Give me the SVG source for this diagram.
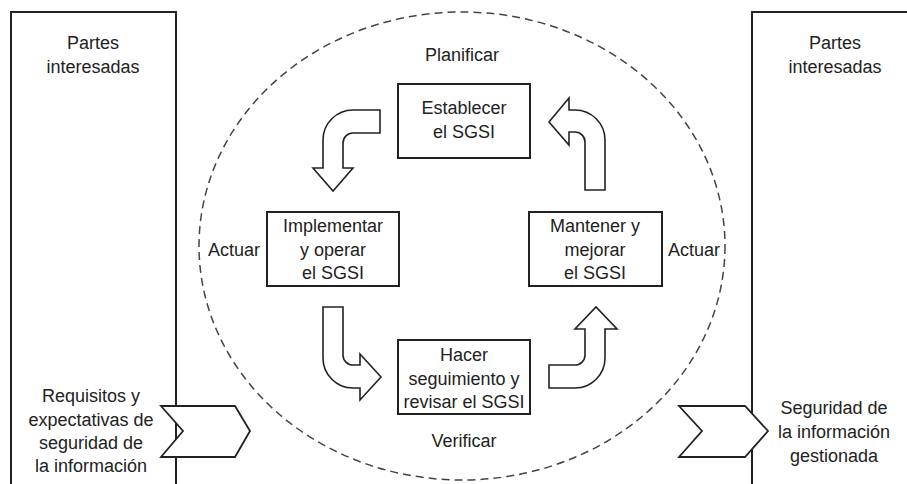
<svg xmlns="http://www.w3.org/2000/svg" width="907" height="484" viewBox="0 0 907 484">
<style>
text{font-family:"Liberation Sans",Arial,sans-serif;font-size:18px;fill:#222;text-anchor:middle}
.box{fill:#fff;stroke:#222;stroke-width:2}
.side{fill:none;stroke:#222;stroke-width:2}
.arr{fill:#fff;stroke:#222;stroke-width:1.6;stroke-linejoin:miter}
.chev{fill:#fff;stroke:#222;stroke-width:1.8}
.cycle{fill:none;stroke:#444;stroke-width:1.5;stroke-dasharray:8 5}
</style>
<rect width="907" height="484" fill="#fff"/>
<g id="partes-izq">
<rect class="side" x="11" y="12" width="165" height="480"/>
<text x="93" y="49">Partes</text>
<text x="93" y="73">interesadas</text>
</g>
<g id="partes-der">
<rect class="side" x="752" y="12" width="170" height="480"/>
<text x="835" y="49">Partes</text>
<text x="835" y="73">interesadas</text>
</g>
<g id="ciclo">
<ellipse class="cycle" cx="462" cy="246" rx="263" ry="234"/>
<text x="462" y="61">Planificar</text>
<text x="464" y="447">Verificar</text>
<text x="234" y="256">Actuar</text>
<text x="694" y="256">Actuar</text>
</g>
<g id="establecer">
<rect class="box" x="398" y="84" width="132" height="74"/>
<text x="464" y="114">Establecer</text>
<text x="464" y="138">el SGSI</text>
</g>
<g id="implementar">
<rect class="box" x="267" y="212" width="132" height="74"/>
<text x="333" y="232">Implementar</text>
<text x="333" y="256">y operar</text>
<text x="333" y="279">el SGSI</text>
</g>
<g id="mantener">
<rect class="box" x="529" y="212" width="133" height="74"/>
<text x="595" y="232">Mantener y</text>
<text x="595" y="256">mejorar</text>
<text x="595" y="279">el SGSI</text>
</g>
<g id="hacer">
<rect class="box" x="398" y="340" width="132" height="74"/>
<text x="464" y="361">Hacer</text>
<text x="464" y="385">seguimiento y</text>
<text x="464" y="408">revisar el SGSI</text>
</g>
<g id="connectors">
<path class="arr" d="M380,110 L353,110 A30 30 0 0 0 323 140 L323,168 L313,168 L333,191 L353,168 L343,168 L343,143 A10 10 0 0 1 353 133 L380,133 Z"/>
<path class="arr" d="M549,122 L569,98 L569,110 L575,110 A30 30 0 0 1 605 140 L605,190 L585,190 L585,142 A10 10 0 0 0 575 132 L569,132 L569,145 Z"/>
<path class="arr" d="M323,307 L343,307 L343,355 A10 10 0 0 0 353 365 L360,365 L360,354 L381,377 L360,400 L360,388 L353,388 A30 30 0 0 1 323 358 Z"/>
<path class="arr" d="M549,365 L575,365 A10 10 0 0 0 585 355 L585,329 L575,329 L596,307 L617,329 L605,329 L605,358 A30 30 0 0 1 575 388 L549,388 Z"/>
<path class="chev" d="M161,406 L235,406 L250,431 L235,457 L161,457 L183,431 Z"/>
<path class="chev" d="M679,406 L745,406 L768,431 L745,457 L679,457 L702,431 Z"/>
</g>
<g id="entrada">
<text x="91" y="402">Requisitos y</text>
<text x="91" y="426">expectativas de</text>
<text x="91" y="449">seguridad de</text>
<text x="91" y="472">la información</text>
</g>
<g id="salida">
<text x="834" y="414">Seguridad de</text>
<text x="834" y="438">la información</text>
<text x="834" y="462">gestionada</text>
</g>
</svg>
